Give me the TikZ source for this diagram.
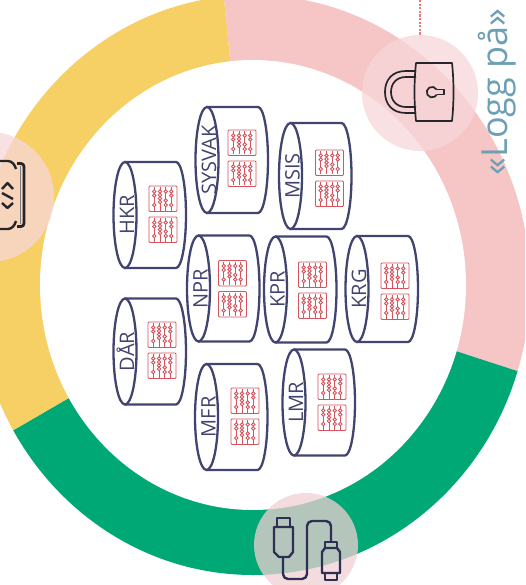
\documentclass[tikz,border=0pt]{standalone}
\usepackage{fontspec}
\setmainfont{Open Sans}
\definecolor{ringyellow}{RGB}{246,207,101}
\definecolor{ringpink}{RGB}{246,197,197}
\definecolor{ringgreen}{RGB}{0,168,117}
\definecolor{spot}{RGB}{241,208,211}
\definecolor{spotlight}{RGB}{248,215,218}
\definecolor{navy}{RGB}{66,68,112}
\definecolor{bead}{RGB}{214,84,92}
\definecolor{login}{RGB}{108,160,180}
\definecolor{ink}{RGB}{38,38,42}
\definecolor{cable}{RGB}{46,47,85}
\definecolor{dots}{RGB}{240,120,125}

\begin{document}
\begin{tikzpicture}[x=1pt,y=-1pt]

	\tikzstyle spot circle=[fill=spot,fill opacity=.75];
	\tikzstyle light circle=[fill=spotlight,fill opacity=.75];
	\tikzstyle base lines=[draw=navy,line width=2.3pt,fill=white];
	\tikzstyle base label=[text=navy,rotate=90,font=\fontsize{20}{20}\selectfont,inner sep=0pt,text height=14.3pt,text depth=0pt];
	\tikzstyle bead lines=[draw=bead,line width=.9pt];
	\tikzstyle lock lines=[draw=ink,line width=1.7pt,line join=round];
	\tikzstyle code lines=[draw=ink,line width=2.4pt,line join=round];
	\tikzstyle plug lines=[draw=cable,line width=2.4pt,line join=round];

	\path[use as bounding box,clip] (0,0) rectangle (525,585);
	\fill[white] (0,0) rectangle (525,585);

	% ring
	\begin{scope}
		\clip (253,285) ellipse [x radius=277pt,y radius=290pt];
		\fill[ringpink] (253,285) -- (218,-60) -- (600,-60) -- (600,398) -- cycle;
		\fill[ringgreen] (253,291) -- (253,285) -- (600,398) -- (600,640) -- (-100,640) -- (-100,496) -- cycle;
		\fill[ringyellow] (253,291) -- (-100,496) -- (-100,-60) -- (218,-60) -- (253,285) -- cycle;
	\end{scope}
	\fill[white] (253,285) ellipse [x radius=213pt,y radius=225pt];

	% spots
	\fill[light circle] (420,93) circle (58pt);
	\fill[light circle] (-11,197) circle (65pt);
	\fill[spot circle] (306,545) circle (52pt);

	\draw[dots,dash pattern=on 2.2pt off 1.4pt,line width=2.6pt] (420,0) -- (420,36);
	\node[text=login,rotate=90,font=\fontsize{36}{36}\selectfont,inner sep=0pt] (login) at (497,92) {«Logg på»};

	% registers
	\foreach \cx/\cy/\ix/\iy/\name in {150/215/-1/-29/HKR,232/160/-4/-30/SYSVAK,315.5/176/0/-26/MSIS,223.5/288.5/-5/-28/NPR,300.5/289.5/-2/-27.5/KPR,382/289/-1/-26/KRG,150/351.5/-2/-29.5/DÅR,231.5/417/-0.5/-29/MFR,319/402.5/-1/-28.5/LMR}{
		\begin{scope}[shift={(\cx,\cy)}]
			\draw[base lines] (-25,-53) -- (26,-53) arc[start angle=90,end angle=-90,x radius=10pt,y radius=53pt] -- (-25,53);
			\draw[base lines] (-25,0) ellipse [x radius=11.5pt,y radius=53pt];
			\node[base label] (label \name) at (-23,0) {\name};
			\foreach \row in {0,31}{
				\begin{scope}[shift={(\ix,\iy)},yshift=-\row pt]
					\draw[bead lines,rounded corners=1pt] (0,0) rectangle (28,25.5);
					\foreach \rx/\beads in {5.3/{5.5,9.5,19},11/{5.5,9,12.5,16},16.7/{5.5,14.5,19},22.3/{5.5,9.5,19}}{
						\draw[bead lines] (\rx,1) -- (\rx,24.5);
						\foreach \by in \beads
							\draw[bead lines,fill=white] (\rx,\by) circle (1.7pt);
					}
				\end{scope}
			}
		\end{scope}
	}

	% lock
	\draw[lock lines] (416,71) -- (406,71) .. controls (392,71) and (385,80) .. (385,92) .. controls (385,104) and (392,113) .. (406,113) -- (416,113);
	\draw[lock lines] (416,77) -- (406,77) .. controls (396,77) and (391,84) .. (391,92) .. controls (391,100) and (396,107) .. (406,107) -- (416,107);
	\draw[lock lines] (416,63) -- (452,63) .. controls (454,82) and (454,102) .. (452,121) -- (416,121) .. controls (414,102) and (414,82) .. (416,63) -- cycle;
	\draw[lock lines] (436.6,89.5) -- (444,89.5) -- (444,94.5) -- (436.6,94.5);
	\draw[lock lines] (436.6,89.5) arc[start angle=30,end angle=330,radius=5.3pt];

	% code
	\draw[code lines,line width=2.8pt,rounded corners=3pt] (17,163.5) -- (24,163.5) -- (24,226.5) -- (17,226.5);
	\draw[draw=ink!60,line width=1pt] (20.5,166) -- (20.5,224);
	\draw[code lines] (0,161) -- (8,161) .. controls (12,161) and (15,165) .. (16,169);
	\draw[code lines] (0,229) -- (8,229) .. controls (12,229) and (15,225) .. (16,221);
	\draw[code lines] (2,189) -- (7.5,183) -- (13,189);
	\draw[code lines] (2,193) -- (13,199);
	\draw[code lines] (2,203) -- (7.5,208) -- (13,203);

	% cable
	\draw[plug lines] (277,527) -- (277,518) -- (290,518) -- (290,527);
	\draw[plug lines] (274,527) -- (293,527) -- (293,552) -- (289,557) -- (279,557) -- (274,552) -- cycle;
	\draw[plug lines,rounded corners=5pt] (283,557) -- (283,579) -- (307,579) -- (307,521) -- (331,521) -- (331,542);
	\draw[plug lines] (325,548) -- (325,542) -- (337,542) -- (337,548);
	\draw[plug lines] (325,548) -- (337,548) -- (340,552) -- (340,573) -- (322,573) -- (322,552) -- cycle;
	\draw[plug lines] (325,573) -- (325,580) -- (337,580) -- (337,573);

\end{tikzpicture}
\end{document}
